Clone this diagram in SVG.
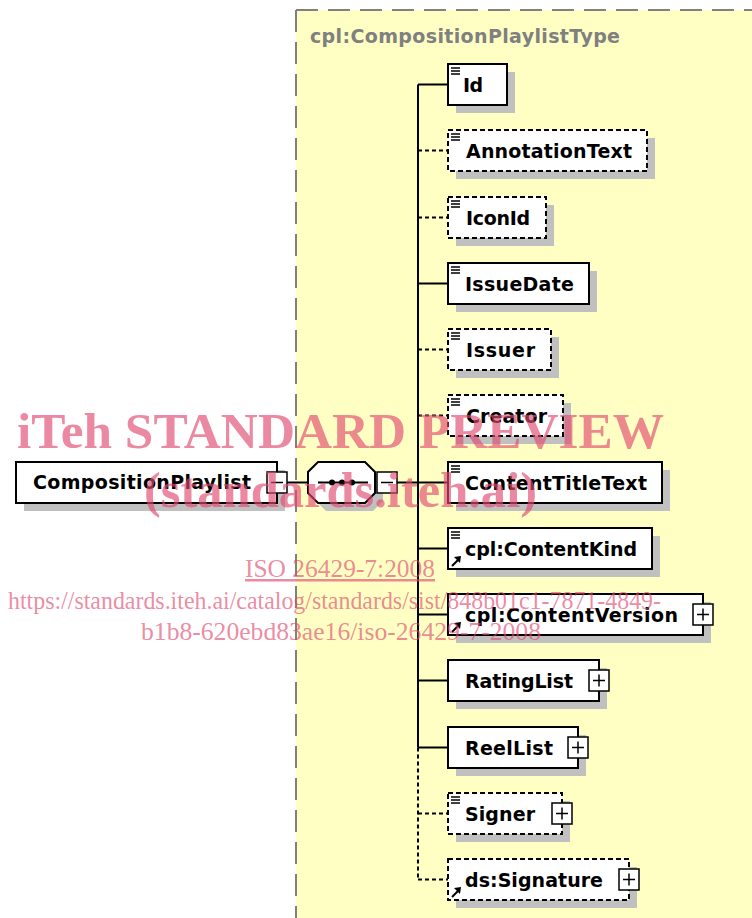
<svg xmlns="http://www.w3.org/2000/svg" width="752" height="918" viewBox="0 0 752 918">
<style>
.sh{fill:#c0c0c0}
.box{fill:#fff;stroke:#000;stroke-width:2}
.opt{stroke-dasharray:5,3}
.lbl{font-family:"DejaVu Sans",Verdana,sans-serif;font-weight:bold;font-size:19px;fill:#000}
.ttl{font-family:"DejaVu Sans",Verdana,sans-serif;font-weight:bold;font-size:19px;fill:#808080}
.conn{stroke:#000;stroke-width:2;fill:none}
.dash{stroke-dasharray:4,3}
.ico{stroke:#000;stroke-width:1.5;fill:none}
.pm{fill:#fff;stroke:#000;stroke-width:1.5}
.pms{stroke:#000;stroke-width:1.5;fill:none}
.wm{font-family:"Liberation Serif","Times New Roman",serif;fill:#e04a70;fill-opacity:0.65}
</style>
<defs>
<g id="eq"><path class="ico" d="M3,4H12M3,7H12M3,10H12"/></g>
<g id="ref"><path d="M4,-3L10,-9" stroke="#000" stroke-width="2"/><path d="M13,-13L6,-12L12,-6Z" fill="#000"/></g>
</defs>
<rect width="752" height="918" fill="#fff"/>
<g id="panel">
<rect x="296" y="10" width="456" height="908" fill="#ffffc4"/>
<path d="M296,10H752M296,10V918" stroke="#808080" stroke-width="2" stroke-dasharray="22,10" fill="none"/>
<text class="ttl" x="310" y="43" textLength="310" lengthAdjust="spacing">cpl:CompositionPlaylistType</text>
</g>
<g id="connectors">
<path class="conn" d="M287,482.5H308M397,482.5H448M418,84.5V747.5"/>
<path class="conn dash" d="M418,747.5V879.5"/>
<path class="conn" d="M418,84.5H448M418,283.5H448M418,548.5H448M418,614.5H448M418,680.5H448M418,747.5H448"/>
<path class="conn dash" d="M418,150.5H448M418,217.5H448M418,349.5H448M418,415.5H448M418,813.5H448M418,879.5H448"/>
</g>
<g id="CompositionPlaylist">
<rect class="sh" x="24" y="470" width="261" height="41"/>
<rect class="box" x="16" y="462" width="261" height="41"/>
<text class="lbl" x="33" y="489" textLength="218" lengthAdjust="spacing">CompositionPlaylist</text>
<rect class="pm" x="267" y="472" width="20" height="21"/>
<path class="pms" d="M271,482.5H283"/>
</g>
<g id="sequence">
<path class="sh" d="M326,470H373L383,480V501L373,511H326L316,501V480Z"/>
<path class="box" d="M318,462H365L375,472V493L365,503H318L308,493V472Z"/>
<path d="M318,482.5H368" stroke="#000" stroke-width="2"/>
<circle cx="332" cy="482.5" r="3"/><circle cx="342" cy="482.5" r="3"/><circle cx="352" cy="482.5" r="3"/>
<rect class="pm" x="377" y="472" width="20" height="21"/>
<path class="pms" d="M381,482.5H393"/>
</g>
<g id="Id">
<rect class="sh" x="456" y="72" width="59" height="41"/>
<rect class="box" x="448" y="64" width="59" height="41"/>
<use href="#eq" x="448" y="64"/>
<text class="lbl" x="463" y="91.5" textLength="20" lengthAdjust="spacing">Id</text>
</g>
<g id="AnnotationText">
<rect class="sh" x="456" y="138" width="199" height="41"/>
<rect class="box opt" x="448" y="130" width="199" height="41"/>
<use href="#eq" x="448" y="130"/>
<text class="lbl" x="466" y="157.5" textLength="166" lengthAdjust="spacing">AnnotationText</text>
</g>
<g id="IconId">
<rect class="sh" x="456" y="205" width="98" height="41"/>
<rect class="box opt" x="448" y="197" width="98" height="41"/>
<use href="#eq" x="448" y="197"/>
<text class="lbl" x="466" y="224.5" textLength="64" lengthAdjust="spacing">IconId</text>
</g>
<g id="IssueDate">
<rect class="sh" x="456" y="271" width="141" height="41"/>
<rect class="box" x="448" y="263" width="141" height="41"/>
<use href="#eq" x="448" y="263"/>
<text class="lbl" x="465" y="290.5" textLength="109" lengthAdjust="spacing">IssueDate</text>
</g>
<g id="Issuer">
<rect class="sh" x="456" y="337" width="103" height="41"/>
<rect class="box opt" x="448" y="329" width="103" height="41"/>
<use href="#eq" x="448" y="329"/>
<text class="lbl" x="466" y="356.5" textLength="69" lengthAdjust="spacing">Issuer</text>
</g>
<g id="Creator">
<rect class="sh" x="456" y="403" width="115" height="41"/>
<rect class="box opt" x="448" y="395" width="115" height="41"/>
<use href="#eq" x="448" y="395"/>
<text class="lbl" x="466" y="422.5" textLength="81" lengthAdjust="spacing">Creator</text>
</g>
<g id="ContentTitleText">
<rect class="sh" x="456" y="470" width="214" height="41"/>
<rect class="box" x="448" y="462" width="214" height="41"/>
<use href="#eq" x="448" y="462"/>
<text class="lbl" x="465" y="489.5" textLength="182" lengthAdjust="spacing">ContentTitleText</text>
</g>
<g id="ContentKind">
<rect class="sh" x="456" y="536" width="204" height="41"/>
<rect class="box" x="448" y="528" width="204" height="41"/>
<use href="#eq" x="448" y="528"/>
<use href="#ref" x="448" y="569"/>
<text class="lbl" x="465" y="555.5" textLength="172" lengthAdjust="spacing">cpl:ContentKind</text>
</g>
<g id="ContentVersion">
<rect class="sh" x="456" y="602" width="255" height="41"/>
<rect class="box" x="448" y="594" width="255" height="41"/>
<use href="#ref" x="448" y="635"/>
<text class="lbl" x="465" y="621.5" textLength="213" lengthAdjust="spacing">cpl:ContentVersion</text>
<rect class="pm" x="693" y="604" width="20" height="21"/>
<path class="pms" d="M697,614.5H709M703,608.5V620.5"/>
</g>
<g id="RatingList">
<rect class="sh" x="456" y="668" width="151" height="41"/>
<rect class="box" x="448" y="660" width="151" height="41"/>
<text class="lbl" x="465" y="687.5" textLength="108" lengthAdjust="spacing">RatingList</text>
<rect class="pm" x="589" y="670" width="20" height="21"/>
<path class="pms" d="M593,680.5H605M599,674.5V686.5"/>
</g>
<g id="ReelList">
<rect class="sh" x="456" y="735" width="130" height="41"/>
<rect class="box" x="448" y="727" width="130" height="41"/>
<text class="lbl" x="465" y="754.5" textLength="88" lengthAdjust="spacing">ReelList</text>
<rect class="pm" x="568" y="737" width="20" height="21"/>
<path class="pms" d="M572,747.5H584M578,741.5V753.5"/>
</g>
<g id="Signer">
<rect class="sh" x="456" y="801" width="114" height="41"/>
<rect class="box opt" x="448" y="793" width="114" height="41"/>
<use href="#eq" x="448" y="793"/>
<text class="lbl" x="465" y="820.5" textLength="70" lengthAdjust="spacing">Signer</text>
<rect class="pm" x="552" y="803" width="20" height="21"/>
<path class="pms" d="M556,813.5H568M562,807.5V819.5"/>
</g>
<g id="Signature">
<rect class="sh" x="456" y="867" width="181" height="41"/>
<rect class="box opt" x="448" y="859" width="181" height="41"/>
<use href="#ref" x="448" y="900"/>
<text class="lbl" x="465" y="886.5" textLength="138" lengthAdjust="spacing">ds:Signature</text>
<rect class="pm" x="619" y="869" width="20" height="21"/>
<path class="pms" d="M623,879.5H635M629,873.5V885.5"/>
</g>
<g id="watermark">
<text class="wm" x="17" y="448" font-size="51" font-weight="bold" textLength="647" lengthAdjust="spacingAndGlyphs">iTeh STANDARD PREVIEW</text>
<text class="wm" x="144" y="507" font-size="51" font-weight="bold" textLength="393" lengthAdjust="spacingAndGlyphs">(standards.iteh.ai)</text>
<text class="wm" x="245" y="577" font-size="25" text-decoration="underline" textLength="190" lengthAdjust="spacingAndGlyphs">ISO 26429-7:2008</text>
<text class="wm" x="8" y="609" font-size="25" textLength="653" lengthAdjust="spacingAndGlyphs">https://standards.iteh.ai/catalog/standards/sist/848b01c1-7871-4849-</text>
<text class="wm" x="141" y="640" font-size="25" textLength="400" lengthAdjust="spacingAndGlyphs">b1b8-620ebd83ae16/iso-26429-7-2008</text>
</g>
</svg>
